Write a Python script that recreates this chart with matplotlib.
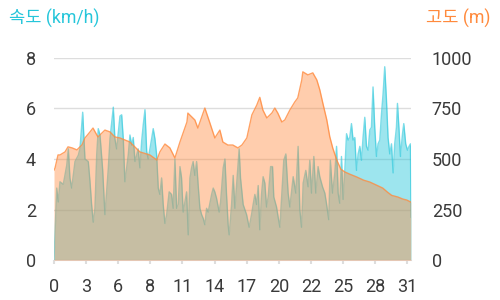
import matplotlib
matplotlib.use("Agg")
import matplotlib.pyplot as plt

# distance (km) / speed (km/h)
speed_x = [0.00, 0.24, 0.37, 0.52, 0.81, 1.11, 1.25, 1.39, 1.54, 1.83, 2.12, 2.26, 2.50, 2.70,
           2.99, 3.14, 3.28, 3.42, 3.57, 3.72, 3.86, 4.01, 4.24, 4.44, 4.73, 4.88, 5.17, 5.31,
           5.46, 5.75, 5.90, 6.04, 6.18, 6.47, 6.62, 6.77, 6.91, 7.06, 7.34, 7.49, 7.64, 7.78,
           7.93, 8.08, 8.21, 8.51, 8.65, 8.80, 8.95, 9.09, 9.23, 9.38, 9.52, 9.67, 9.82, 10.04,
           10.25, 10.39, 10.54, 10.69, 10.83, 10.98, 11.12, 11.26, 11.56, 11.70, 11.85, 11.99,
           12.13, 12.28, 12.43, 12.57, 12.72, 12.87, 13.01, 13.15, 13.30, 13.44, 13.74, 13.88,
           14.02, 14.17, 14.40, 14.52, 14.75, 14.90, 15.04, 15.18, 15.27, 15.48, 15.62, 15.77,
           15.91, 16.05, 16.14, 16.26, 16.49, 16.79, 17.01, 17.22, 17.36, 17.51, 17.66, 17.80,
           17.94, 18.09, 18.23, 18.38, 18.53, 18.67, 18.88, 19.05, 19.16, 19.40, 19.54, 19.69,
           19.83, 20.03, 20.21, 20.41, 20.56, 20.85, 21.08, 21.28, 21.43, 21.58, 21.72, 21.95,
           22.15, 22.30, 22.45, 22.65, 22.82, 23.02, 23.17, 23.41, 23.61, 23.75, 23.95, 24.09,
           24.28, 24.48, 24.63, 24.77, 24.91, 25.06, 25.20, 25.35, 25.50, 25.64, 25.78, 25.93,
           26.07, 26.22, 26.37, 26.51, 26.66, 26.80, 26.94, 27.09, 27.24, 27.38, 27.53, 27.67,
           27.81, 27.96, 28.11, 28.25, 28.40, 28.55, 28.69, 28.83, 28.98, 29.12, 29.27, 29.42,
           29.56, 29.70, 29.85, 29.94, 30.08, 30.20, 30.38, 30.49, 30.66, 30.81, 30.95, 31.07,
           31.12]
speed = [0.0, 2.85, 2.3, 3.1, 3.0, 3.75, 4.4, 3.25, 2.85, 3.9, 4.15, 4.4, 5.85, 4.0,
         3.9, 3.1, 2.2, 1.5, 2.05, 4.15, 5.2, 4.95, 3.6, 1.8, 3.6, 4.8, 6.05, 4.8,
         4.4, 5.7, 5.75, 4.8, 3.1, 4.15, 4.95, 4.55, 4.85, 3.9, 4.4, 3.65, 4.7, 5.35,
         5.95, 4.3, 4.0, 4.8, 5.2, 4.8, 4.15, 2.85, 2.6, 3.25, 2.2, 1.45, 1.8, 2.7,
         2.6, 2.05, 4.0, 2.05, 2.2, 3.7, 3.25, 1.9, 2.7, 1.0, 3.25, 3.65,
         3.9, 3.35, 3.9, 2.95, 2.05, 1.8, 1.65, 1.4, 2.05, 1.9, 2.6, 2.85,
         2.7, 2.45, 1.9, 2.3, 3.65, 4.0, 2.6, 1.4, 1.0, 2.2, 3.35, 2.05,
         2.95, 3.9, 4.4, 3.25, 2.2, 1.8, 1.3, 1.8, 2.2, 2.6, 2.2, 2.95,
         1.2, 2.6, 3.3, 3.05, 2.1, 2.5, 3.7, 3.7, 2.5, 2.1, 1.7, 1.3,
         2.4, 3.95, 4.2, 2.65, 2.1, 3.3, 2.65, 4.5, 2.0, 1.3, 3.05, 3.55,
         2.9, 3.95, 2.65, 4.1, 2.65, 3.7, 3.3, 2.9, 2.65, 2.25, 1.6, 3.95,
         2.65, 3.45, 4.5, 2.65, 2.25, 4.1, 2.4, 3.55, 5.0, 4.75, 4.85, 5.4,
         4.75, 4.85, 3.55, 4.2, 4.5, 3.95, 4.85, 5.65, 4.5, 4.35, 5.15, 5.25,
         6.85, 5.25, 4.1, 4.6, 4.75, 5.8, 6.6, 7.65, 6.35, 4.85, 4.2, 4.6,
         3.45, 4.6, 5.25, 6.2, 5.15, 4.1, 5.0, 5.4, 4.6, 4.35, 4.5, 4.6,
         1.7]

# distance (km) / elevation (m)
elev_x = [0.00, 0.09, 0.35, 0.52, 0.96, 1.22, 1.57, 2.00, 2.44, 2.70, 3.14, 3.40, 3.83, 4.44,
          4.88, 5.31, 5.75, 6.62, 7.49, 8.36, 8.97, 9.23, 9.67, 10.10, 10.54, 10.98, 11.59,
          11.67, 12.28, 12.54, 13.15, 13.59, 14.02, 14.46, 14.72, 15.16, 15.59, 16.03, 16.38,
          16.81, 17.25, 17.68, 17.94, 18.21, 18.55, 18.99, 19.25, 19.51, 19.86, 20.12, 20.56,
          20.99, 21.25, 21.60, 21.69, 22.13, 22.56, 22.91, 23.17, 23.43, 23.78, 24.04, 24.30,
          24.65, 25.00, 25.35, 25.78, 26.39, 27.00, 27.53, 28.14, 28.66, 29.09, 29.44, 29.97,
          30.40, 30.75, 31.10]
elev = [445, 455, 520, 520, 535, 560, 555, 545, 570, 604, 634, 653, 609, 643,
        634, 609, 604, 584, 535, 520, 495, 535, 574, 555, 505, 584, 683,
        727, 693, 653, 752, 678, 604, 643, 584, 569, 569, 555, 569,
        604, 718, 767, 805, 742, 703, 727, 752, 727, 683, 693, 742,
        782, 802, 891, 931, 916, 926, 891, 842, 777, 693, 610, 554,
        495, 450, 436, 425, 411, 395, 386, 370, 356, 335, 320, 312,
        302, 297, 287]

tick_pos = [2.8 * i for i in range(12)]
tick_labels = ["0", "3", "6", "8", "11", "14", "17", "20", "22", "25", "28", "31"]

CYAN = "#26c6da"
ORANGE = "#ff8a3d"
TXT = "#3a3a3a"
GRID = "#dddddd"

plt.rcParams['font.family'] = ['Roboto', 'Noto Sans CJK KR', 'DejaVu Sans']

fig = plt.figure(figsize=(5, 3), dpi=100)
ax = fig.add_axes([0.108, 0.133, 0.714, 0.674])
ax2 = ax.twinx()

# speed area (drawn first)
ax.fill_between(speed_x, speed, 0, color=CYAN, alpha=0.45, lw=0, zorder=2)
ax.plot(speed_x, speed, color=CYAN, lw=1, alpha=0.6, zorder=3)

# elevation area on top
ax2.fill_between(elev_x, elev, 0, color=ORANGE, alpha=0.42, lw=0, zorder=2)
ax2.plot(elev_x, elev, color=ORANGE, lw=1, alpha=0.8, zorder=3)

ax.set_xlim(0, 31.12)
ax.set_ylim(0, 8)
ax2.set_ylim(0, 1000)
ax.set_yticks([0, 2, 4, 6, 8])
ax2.set_yticks([0, 250, 500, 750, 1000])
ax.set_xticks(tick_pos)
ax.set_xticklabels(tick_labels)

ax.grid(axis='y', color=GRID, lw=1)
ax.set_axisbelow(True)

for a in (ax, ax2):
    for s in a.spines.values():
        s.set_visible(False)
ax.spines['bottom'].set_visible(True)
ax.spines['bottom'].set_color(GRID)

ax.tick_params(axis='y', length=0, pad=13, labelsize=13, labelcolor=TXT)
ax2.tick_params(axis='y', length=0, pad=15, labelsize=13, labelcolor=TXT)
ax.tick_params(axis='x', length=3, color=GRID, width=1.5, pad=10, labelsize=13, labelcolor=TXT)

fig.text(0.018, 0.938, "속도 (km/h)", color=CYAN, fontsize=12.7, ha='left', va='center')
fig.text(0.982, 0.938, "고도 (m)", color=ORANGE, fontsize=12.7, ha='right', va='center')

fig.savefig("out.png", dpi=100)
